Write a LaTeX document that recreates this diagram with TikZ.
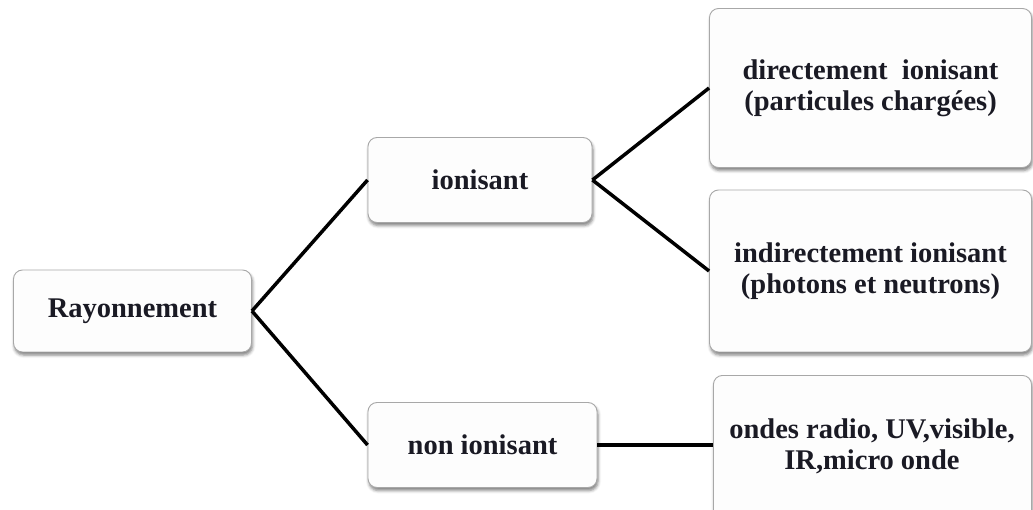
\documentclass[tikz,border=0pt]{standalone}
\usepackage{fontspec}
\setmainfont{Liberation Serif}
\usetikzlibrary{shadows.blur}
\definecolor{boxline}{HTML}{A8A8A8}
\definecolor{boxfill}{HTML}{FDFDFD}
\definecolor{txt}{HTML}{1A1A24}
\begin{document}
\begin{tikzpicture}[x=1pt,y=-1pt,
  box/.style={draw=boxline, line width=0.9pt, fill=boxfill, rounded corners=9pt,
    blur shadow={shadow xshift=1pt, shadow yshift=-3pt, shadow blur radius=3pt, shadow opacity=50},
    text=txt, align=center, inner sep=0pt,
    font=\fontsize{28.5}{31}\selectfont\bfseries},
  label/.style={text=txt, align=center, inner sep=0pt,
    font=\fontsize{28.5}{31}\selectfont\bfseries},
  link/.style={line width=3.5pt, black},
  thick link/.style={line width=4.5pt, black}]
\useasboundingbox (0,0) rectangle (1033,510);
\clip (0,0) rectangle (1033,510);
\node[box, minimum width=238pt, minimum height=82pt] (ray) at (132.5,311) {Rayonnement};
\node[box, minimum width=224pt, minimum height=85pt] (ion) at (480,180) {ionisant};
\node[box, minimum width=229pt, minimum height=85pt] (non) at (482.5,445) {non ionisant};
\node[box, minimum width=322pt, minimum height=159pt] (dir) at (870.5,88) {directement\ \ ionisant\\(particules chargées)};
\node[box, minimum width=322pt, minimum height=162pt] (ind) at (870.5,271) {indirectement ionisant\\(photons et neutrons)};
\node[box, minimum width=318pt, minimum height=170pt, anchor=north west] (ond) at (713,375) {};
\node[label] (ondt) at (872,446) {ondes radio, UV,visible,\\IR,micro onde};
\draw[link] (ray.east) -- (ion.west);
\draw[link] (ray.east) -- (non.west);
\draw[link] (ion.east) -- (dir.west);
\draw[link] (ion.east) -- (ind.west);
\draw[thick link] (non.east) -- (ond.west |- non.east);
\end{tikzpicture}
\end{document}
